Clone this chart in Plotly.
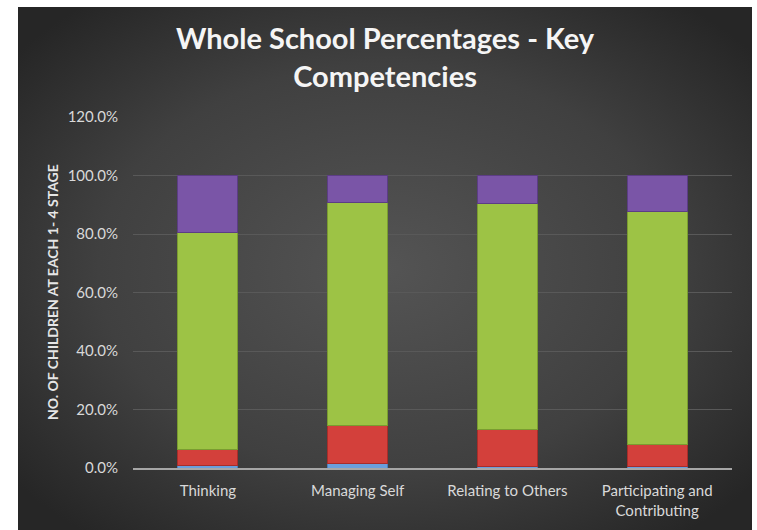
import base64
import plotly.graph_objects as go

categories = ["Thinking", "Managing Self", "Relating to Others", "Participating and<br>Contributing"]
stage1 = [0.007, 0.014, 0.005, 0.005]
stage2 = [0.055, 0.133, 0.127, 0.074]
stage3 = [0.744, 0.762, 0.771, 0.797]
stage4 = [0.194, 0.091, 0.097, 0.124]
series_names = ["Stage 1", "Stage 2", "Stage 3", "Stage 4"]
colors = ["#6a9fdc", "#d3403b", "#9dc345", "#7a55a7"]
outline = ["#4a7fbc", "#a82d2a", "#7a9c30", "#5c3d85"]
y_ticks = [0, 0.2, 0.4, 0.6, 0.8, 1.0, 1.2]

W, H = 757, 530
ml, mr, mt, mb = 133, 25, 117, 62
pw, ph = W - ml - mr, H - mt - mb

def px_x(p):
    return (p - ml) / pw

def px_y(p):
    return (H - mb - p) / ph

svg = """<svg xmlns='http://www.w3.org/2000/svg' width='734' height='523' viewBox='0 0 734 523' preserveAspectRatio='none'>
<defs><radialGradient id='g' cx='50%' cy='50%' r='65%'>
<stop offset='0%' stop-color='#545454'/><stop offset='60%' stop-color='#404040'/><stop offset='100%' stop-color='#262626'/>
</radialGradient></defs><rect width='734' height='523' fill='url(#g)'/></svg>"""
src = "data:image/svg+xml;base64," + base64.b64encode(svg.encode()).decode()

fig = go.Figure()
for name, vals, c, oc in zip(series_names, [stage1, stage2, stage3, stage4], colors, outline):
    fig.add_trace(go.Bar(x=categories, y=vals, name=name, width=0.4,
                         marker=dict(color=c, line=dict(color=oc, width=1))))

fig.update_layout(
    width=W, height=H, barmode="stack", showlegend=False,
    margin=dict(l=ml, r=mr, t=mt, b=mb),
    paper_bgcolor="white", plot_bgcolor="rgba(0,0,0,0)",
    font=dict(family="Lato", color="#d9d9d9", size=15),
    images=[dict(source=src, xref="paper", yref="paper", x=px_x(18), y=px_y(7),
                 sizex=px_x(752) - px_x(18), sizey=px_y(7) - px_y(530),
                 xanchor="left", yanchor="top", sizing="stretch", layer="below")],
    annotations=[
        dict(text="<b>Whole School Percentages - Key<br>Competencies</b>", xref="paper", yref="paper",
             x=px_x(385), y=px_y(57), showarrow=False, xanchor="center", yanchor="middle",
             font=dict(family="Lato", size=29, color="#f5f5f5")),
        dict(text="<b>NO. OF CHILDREN AT EACH 1- 4 STAGE</b>", xref="paper", yref="paper",
             x=px_x(52), y=px_y(292), showarrow=False, textangle=-90,
             xanchor="center", yanchor="middle",
             font=dict(family="Lato", size=14, color="#e6e6e6")),
    ],
)
fig.update_yaxes(range=[0, 1.2], tickvals=y_ticks, tickformat=".1%", showgrid=True,
                 gridcolor="#595959", gridwidth=1, zeroline=False, showline=False,
                 ticks="", ticklabelstandoff=14, tickfont=dict(size=15, color="#d9d9d9"))
fig.update_xaxes(showline=True, linecolor="#a6a6a6", linewidth=2, ticks="",
                 ticklabelstandoff=8,
                 showgrid=False, tickfont=dict(size=15, color="#d9d9d9"))

fig.write_html("out.html")
